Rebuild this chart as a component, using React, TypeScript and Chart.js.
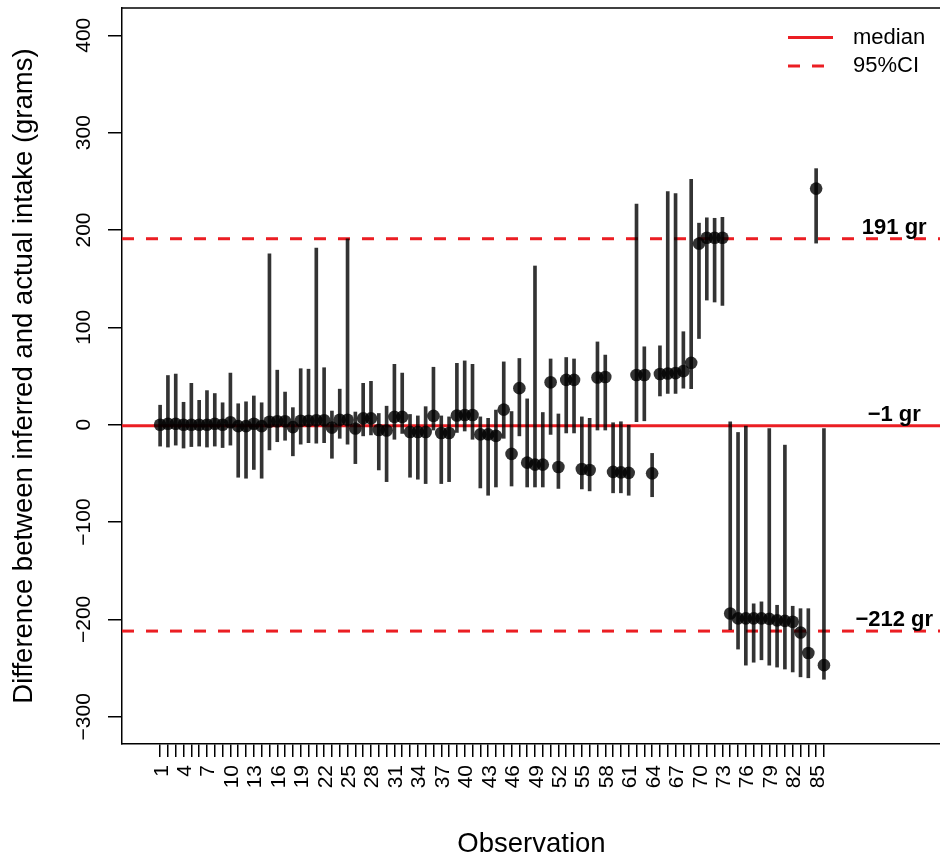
import { useEffect, useRef } from 'react';
import { Chart, registerables } from 'chart.js';

Chart.register(...registerables);

const observations = [
  1, 2, 3, 4, 5, 6, 7, 8, 9, 10, 11, 12, 13, 14, 15, 16, 17, 18, 19, 20,
  21, 22, 23, 24, 25, 26, 27, 28, 29, 30, 31, 32, 33, 34, 35, 36, 37, 38, 39, 40,
  41, 42, 43, 44, 45, 46, 47, 48, 49, 50, 51, 52, 53, 54, 55, 56, 57, 58, 59, 60,
  61, 62, 63, 64, 65, 66, 67, 68, 69, 70, 71, 72, 73, 74, 75, 76, 77, 78, 79, 80,
  81, 82, 83, 84, 85, 86,
];

const estimates = [
  0, 1, 1, 0, 0, 0, 0, 1, 0, 2.5,
  -1.5, -1.5, 1, -1.5, 3, 3.5, 3.5, -2.5, 4, 4,
  4.5, 4.5, -3, 5, 5, -4, 6.5, 6.5, -5.5, -6,
  8, 8, -7.5, -7.5, -7.5, 9, -8.5, -8.5, 9.5, 10,
  10, -10, -10, -11.5, 15.5, -30, 37.5, -39, -41, -41,
  43.5, -43.5, 46, 46, -45.5, -46.5, 48.5, 49, -48.5, -49,
  -49.5, 51, 51, -50, 52, 52.5, 53, 55, 63.5, 186,
  192, 192, 192, -194, -199, -199, -199, -199, -199.5, -201,
  -201.5, -202.5, -213.5, -234.5, 242.5, -247,
];

const lowerBounds = [
  -22, -23, -21, -24, -22.5, -22, -23, -22, -23.5, -21,
  -54, -55, -46, -55, -26, -17.5, -16, -32, -20, -18.5,
  -19, -18.5, -34.5, -14, -20, -40, -11.5, -10.5, -46.5, -58.5,
  -15, -9, -54, -56, -60.5, -5.5, -60.5, -58.5, -8, -6.5,
  -15, -65, -72.5, -64, -14, -63, -11.5, -64, -64, -64,
  -10, -65.5, -8.5, -8.5, -66, -68, -5.5, -5.5, -70, -70,
  -72.5, 3, 4, -74, 29.5, 32, 32, 37.5, 37, 88.5,
  128, 126, 122.5, -210.5, -230.5, -247, -244, -241.5, -247, -249,
  -251, -254, -259, -260, 186.5, -261.5,
];

const upperBounds = [
  20, 50.5, 52, 23, 42.5, 25, 35, 32, 22.5, 53,
  21.5, 23.5, 29.5, 22.5, 175.5, 56, 33.5, 17.5, 57.5, 57,
  181.5, 58.5, 14, 36.5, 191, 13, 42.5, 44.5, 11.5, 19,
  62, 53, 10.5, 9, 18.5, 59, 9, 8, 63, 65.5,
  62, 8, 6.5, 15, 64.5, 13.5, 68, 26.5, 163, 12.5,
  67.5, 11, 69, 67.5, 8, 6.5, 85, 71.5, 2, 3,
  -0.5, 226.5, 80, -29.5, 81, 239.5, 237.5, 95.5, 252, 207,
  212.5, 212, 213, 3, -8, -1.5, -184, -182, -4, -185.5,
  -21, -186.5, -189, -189, 263, -4,
];

const medianValue = -1;
const ciValues = [191, -212];
const refLabelValues = [191, -1, -212];
const refLabels = ['191 gr', '\u22121 gr', '\u2212212 gr'];
const refLabelX = 95;

const yTicks = [-300, -200, -100, 0, 100, 200, 300, 400];
const xTickLabels = [
  '1', '4', '7', '10', '13', '16', '19', '22', '25', '28', '31', '34', '37', '40',
  '43', '46', '49', '52', '55', '58', '61', '64', '67', '70', '73', '76', '79', '82', '85',
];
const legendLabels = ['median', '95%CI'];

const X_MIN = -3.88;
const X_MAX = 100.86;
const Y_MIN = -328;
const Y_MAX = 428;

const FONT = '"Liberation Sans", Arial, Helvetica, sans-serif';
const RED = 'rgb(235,30,35)';
const INK = 'rgba(0,0,0,0.8)';

const fmt = (v: number) => (v < 0 ? '\u2212' + Math.abs(v) : String(v));

const decorPlugin = {
  id: 'decor',
  afterDraw(chart: any) {
    const { ctx, chartArea: ca, scales } = chart;
    const x = scales.x;
    const y = scales.y;
    ctx.save();

    // top border of the box
    ctx.strokeStyle = '#000';
    ctx.lineWidth = 1.5;
    ctx.beginPath();
    ctx.moveTo(ca.left, ca.top);
    ctx.lineTo(ca.right, ca.top);
    ctx.stroke();

    ctx.fillStyle = '#000';

    // y tick labels (rotated)
    const tickSize = 21;
    ctx.font = `${tickSize}px ${FONT}`;
    yTicks.forEach((v) => {
      const py = y.getPixelForValue(v);
      ctx.save();
      ctx.translate(82, py);
      ctx.rotate(-Math.PI / 2);
      ctx.textAlign = 'center';
      ctx.textBaseline = 'alphabetic';
      ctx.fillText(fmt(v), 0, tickSize * 0.358);
      ctx.restore();
    });

    // x tick labels (rotated)
    xTickLabels.forEach((lab) => {
      const px = x.getPixelForValue(Number(lab));
      ctx.save();
      ctx.translate(px, 765);
      ctx.rotate(-Math.PI / 2);
      ctx.textAlign = 'right';
      ctx.textBaseline = 'alphabetic';
      ctx.fillText(lab, 0, tickSize * 0.358);
      ctx.restore();
    });

    // axis titles
    ctx.font = `27.5px ${FONT}`;
    ctx.textAlign = 'center';
    ctx.textBaseline = 'alphabetic';
    ctx.fillText('Observation', (ca.left + ca.right + 1) / 2, 852);
    ctx.save();
    ctx.translate(31.5, (ca.top + ca.bottom) / 2);
    ctx.rotate(-Math.PI / 2);
    ctx.fillText('Difference between inferred and actual intake (grams)', 0, 0);
    ctx.restore();

    // reference line labels
    ctx.font = `bold 22px ${FONT}`;
    ctx.textAlign = 'center';
    ctx.textBaseline = 'alphabetic';
    refLabelValues.forEach((v, i) => {
      ctx.fillText(refLabels[i], x.getPixelForValue(refLabelX), y.getPixelForValue(v) - 5);
    });

    // legend
    ctx.strokeStyle = RED;
    ctx.lineWidth = 3;
    const legY = [37.5, 66];
    legendLabels.forEach((lab, i) => {
      ctx.setLineDash(i === 0 ? [] : [12, 12]);
      ctx.beginPath();
      ctx.moveTo(788, legY[i]);
      ctx.lineTo(833, legY[i]);
      ctx.stroke();
    });
    ctx.setLineDash([]);
    ctx.font = `22px ${FONT}`;
    ctx.textAlign = 'left';
    ctx.textBaseline = 'middle';
    legendLabels.forEach((lab, i) => {
      ctx.fillText(lab, 853, legY[i]);
    });

    ctx.restore();
  },
};

export default function App() {
  const canvasRef = useRef<HTMLCanvasElement | null>(null);

  useEffect(() => {
    const canvas = canvasRef.current;
    if (!canvas) return;

    const hline = (v: number) => [
      { x: X_MIN, y: v },
      { x: X_MAX, y: v },
    ];

    const chart = new Chart(canvas, {
      type: 'bar',
      data: {
        datasets: [
          {
            type: 'line',
            label: 'median',
            data: hline(medianValue),
            borderColor: RED,
            borderWidth: 3,
            pointRadius: 0,
            order: 5,
          },
          ...ciValues.map((v) => ({
            type: 'line' as const,
            label: '95%CI',
            data: hline(v),
            borderColor: RED,
            borderWidth: 3,
            borderDash: [12, 12],
            pointRadius: 0,
            order: 4,
          })),
          {
            type: 'bar',
            label: 'interval',
            data: observations.map((o, i) => ({ x: o, y: [lowerBounds[i], upperBounds[i]] })) as any,
            backgroundColor: INK,
            borderWidth: 0,
            barThickness: 3,
            order: 2,
          },
          {
            type: 'scatter',
            label: 'estimate',
            data: observations.map((o, i) => ({ x: o, y: estimates[i] })),
            backgroundColor: INK,
            borderWidth: 0,
            pointRadius: 6.3,
            order: 1,
          },
        ] as any,
      },
      options: {
        animation: false,
        responsive: false,
        maintainAspectRatio: false,
        layout: { autoPadding: false, padding: { top: 8, left: 0, right: 0, bottom: 0 } },
        plugins: {
          legend: { display: false },
          tooltip: { enabled: false },
        },
        scales: {
          x: {
            type: 'linear',
            min: X_MIN,
            max: X_MAX,
            offset: false,
            afterBuildTicks: (s: any) => {
              s.ticks = observations.map((v) => ({ value: v }));
            },
            afterFit: (s: any) => {
              s.height = 113;
              s.paddingLeft = 0;
              s.paddingRight = 0;
            },
            ticks: { display: false, autoSkip: false },
            grid: {
              display: true,
              drawOnChartArea: false,
              drawTicks: true,
              tickLength: 13,
              color: '#000',
              lineWidth: 1.5,
              offset: false,
            },
            border: { display: true, color: '#000', width: 1.5 },
          },
          y: {
            type: 'linear',
            min: Y_MIN,
            max: Y_MAX,
            afterBuildTicks: (s: any) => {
              s.ticks = yTicks.map((v) => ({ value: v }));
            },
            afterFit: (s: any) => {
              s.width = 122;
              s.paddingTop = 0;
              s.paddingBottom = 0;
            },
            ticks: { display: false },
            grid: {
              display: true,
              drawOnChartArea: false,
              drawTicks: true,
              tickLength: 14,
              color: '#000',
              lineWidth: 1.5,
            },
            border: { display: true, color: '#000', width: 1.5 },
          },
        },
      } as any,
      plugins: [decorPlugin],
    });

    return () => chart.destroy();
  }, []);

  return (
    <div style={{ position: 'fixed', left: 0, top: 0, width: 940, height: 857, overflow: 'hidden', background: '#fff' }}>
      <canvas ref={canvasRef} width={940} height={857} style={{ display: 'block' }} />
    </div>
  );
}
